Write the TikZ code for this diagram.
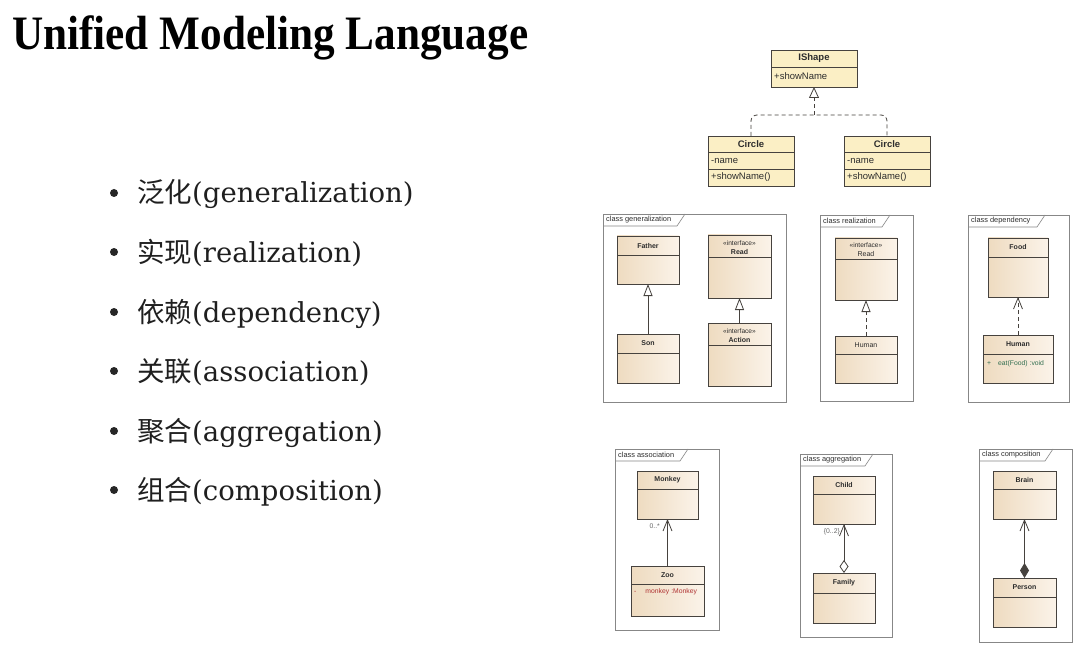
\documentclass[tikz,border=0pt]{standalone}
\usepackage{fontspec}
\usepackage{graphicx}
\setmainfont{DejaVu Serif}
\newfontfamily\cjk{Noto Sans CJK SC}
\newfontfamily\umlf{Liberation Sans}
\newfontfamily\titlef{Liberation Serif}
\usetikzlibrary{arrows.meta,shadows,calc}
\definecolor{tanL}{RGB}{238,219,192}
\definecolor{tanR}{RGB}{251,243,233}
\definecolor{clsborder}{RGB}{70,66,62}
\definecolor{ylw}{RGB}{251,239,197}
\definecolor{frmgray}{RGB}{135,135,135}
\definecolor{txtgray}{RGB}{45,45,45}
\definecolor{grn}{RGB}{50,110,80}
\definecolor{rd}{RGB}{175,50,50}
\tikzset{
  cls/.style={draw=clsborder, line width=0.8pt, left color=tanL, right color=tanR,
    inner sep=0pt, outer sep=0pt,
    drop shadow={shadow xshift=1.4pt, shadow yshift=-1.4pt, fill=black!40, opacity=0.7}},
  clsline/.style={draw=clsborder, line width=0.7pt},
  ycls/.style={draw=clsborder, line width=0.8pt, fill=ylw, inner sep=0pt, outer sep=0pt},
  frm/.style={draw=frmgray, line width=0.6pt, inner sep=0pt, outer sep=0pt},
  frmline/.style={draw=frmgray, line width=0.6pt},
  frmlabel/.style={font=\umlf\fontsize{7.4}{8}\selectfont, text=txtgray, inner sep=0pt},
  cname/.style={font=\umlf\bfseries\fontsize{7}{8}\selectfont, text=txtgray, inner sep=0pt},
  stereo/.style={font=\umlf\fontsize{6.6}{7}\selectfont, text=txtgray, inner sep=0pt},
  attr/.style={font=\umlf\fontsize{6.8}{7}\selectfont, inner sep=0pt, anchor=west},
  yname/.style={font=\umlf\bfseries\fontsize{9.5}{10}\selectfont, text=txtgray, inner sep=0pt},
  yattr/.style={font=\umlf\fontsize{9.5}{10}\selectfont, text=txtgray, inner sep=0pt, anchor=west},
  conn/.style={draw=clsborder, line width=0.8pt},
  dashconn/.style={draw=clsborder, line width=0.8pt, dash pattern=on 4pt off 3pt},
  gentip/.style={-{Triangle[open, length=12pt, width=9pt, fill=white]}},
  vtip/.style={-{Straight Barb[length=11pt, width=9pt]}},
  mult/.style={font=\umlf\fontsize{6.8}{7}\selectfont, text=black!60, inner sep=0pt, anchor=east},
  bulletdot/.style={circle, fill=black!85, minimum size=8pt, inner sep=0pt},
  btext/.style={anchor=base west, inner sep=0pt, text=black!88, font=\fontsize{27.5}{30}\selectfont}
}
\newcommand{\ucls}[6]{%
  \node[cls, anchor=north west, minimum width={#4-#2}, minimum height={#5-#3}] (#1) at (#2,#3) {};
  \draw[clsline] (#2,#6) -- (#4,#6);}
\newcommand{\uframe}[7]{%
  \node[frm, anchor=north west, minimum width={#4-#2}, minimum height={#5-#3}] (#1) at (#2,#3) {};
  \draw[frmline] (#2,#3+12) -- (#6-8,#3+12) -- (#6,#3);
  \node[frmlabel, anchor=west] (#1lbl) at (#2+3,#3+6) {#7};}
\begin{document}
\begin{tikzpicture}[x=1pt,y=-1pt]
\useasboundingbox (0,0) rectangle (1080,650);
\fill[white] (0,0) rectangle (1080,650);

% title
\node[anchor=base west, inner sep=0pt] (title) at (12,50)
  {\titlef\bfseries\fontsize{48}{50}\selectfont\scalebox{0.9}[1]{Unified Modeling Language}};

% bullets
\foreach \by/\cc/\ee [count=\i] in {203/泛化/generalization, 262/实现/realization,
   322/依赖/dependency, 381/关联/association, 441/聚合/aggregation, 500/组合/composition}{
  \node[bulletdot] (bd\i) at (114,\by-10) {};
  \node[btext] (bt\i) at (137,\by) {{\cjk\cc}(\ee)};
}

% ---- IShape diagram
\node[ycls, anchor=north west, minimum width=86, minimum height=37] (ishape) at (771,50) {};
\draw[clsline] (771,67) -- (857,67);
\node[yname] (ishapeN) at (814,58.5) {IShape};
\node[yattr] (ishapeA) at (774,76) {+showName};
\foreach \nm/\cx in {circA/708, circB/844}{
  \node[ycls, anchor=north west, minimum width=86, minimum height=50] (\nm) at (\cx,136) {};
  \draw[clsline] (\cx,152) -- (\cx+86,152);
  \draw[clsline] (\cx,169) -- (\cx+86,169);
  \node[yname] (\nm N) at (\cx+43,144) {Circle};
  \node[yattr] (\nm A) at (\cx+3,160.5) {-name};
  \node[yattr] (\nm B) at (\cx+3,177.5) {+showName()};
}
\coordinate (jn) at (814,115);
\draw[dashconn, rounded corners=6pt] (circA.north) |- (jn) -| (circB.north);
\draw[dashconn, -{Triangle[open, length=11pt, width=10pt, fill=white]}] (jn) -- (ishape.south);

% ---- frames
\uframe{fgen}{603}{214}{786}{402}{685}{class generalization}
\uframe{freal}{820}{215}{913}{401}{890}{class realization}
\uframe{fdep}{968}{215}{1069}{402}{1045}{class dependency}
\uframe{fasc}{615}{449}{719}{630}{688}{class association}
\uframe{fagg}{800}{454}{892}{637}{873}{class aggregation}
\uframe{fcmp}{979}{449}{1072}{642}{1053}{class composition}

% generalization
\ucls{father}{617}{236}{679}{284}{255}
\node[cname] (fatherN) at (648,245.5) {Father};
\ucls{son}{617}{334}{679}{383}{353}
\node[cname] (sonN) at (648,343.5) {Son};
\ucls{readA}{708}{235}{771}{298}{257}
\node[stereo] (readAS) at (739.5,243) {«interface»};
\node[cname] (readAN) at (739.5,252) {Read};
\ucls{action}{708}{323}{771}{386}{345}
\node[stereo] (actionS) at (739.5,331) {«interface»};
\node[cname] (actionN) at (739.5,340) {Action};
\draw[conn, gentip] (son.north) -- (father.south);
\draw[conn, gentip] (action.north) -- (readA.south);

% realization
\ucls{readB}{835}{238}{897}{300}{259}
\node[stereo] (readBS) at (866,245.5) {«interface»};
\node[cname, font=\umlf\fontsize{7}{8}\selectfont] (readBN) at (866,254) {Read};
\ucls{humanA}{835}{336}{897}{383}{354}
\node[cname, font=\umlf\fontsize{7}{8}\selectfont] (humanAN) at (866,345) {Human};
\draw[dashconn, gentip] (humanA.north) -- (readB.south);

% dependency
\ucls{food}{988}{238}{1048}{297}{257}
\node[cname] (foodN) at (1018,247) {Food};
\ucls{humanB}{983}{335}{1053}{383}{354}
\node[cname] (humanBN) at (1018,344.5) {Human};
\node[attr, text=grn] (humanBA) at (987,364) {+\hspace{7pt}eat(Food)\hspace{2pt}:void};
\draw[dashconn, vtip] (humanB.north) -- (food.south);

% association
\ucls{monkey}{637}{471}{698}{519}{489}
\node[cname] (monkeyN) at (667.5,480) {Monkey};
\ucls{zoo}{631}{566}{704}{616}{584}
\node[cname] (zooN) at (667.5,575) {Zoo};
\node[attr, text=rd] (zooA) at (634,592) {-\hspace{9pt}monkey\hspace{2pt}:Monkey};
\draw[conn, vtip] (zoo.north) -- (monkey.south);
\node[mult] (mAsc) at (660,526) {0..*};

% aggregation
\ucls{child}{813}{476}{875}{524}{494}
\node[cname] (childN) at (844,485) {Child};
\ucls{family}{813}{573}{875}{623}{593}
\node[cname] (familyN) at (844,583) {Family};
\draw[conn, {Diamond[open, length=13pt, width=9pt, fill=white]}-{Straight Barb[length=11pt, width=9pt]}] (family.north) -- (child.south);
\node[mult] (mAgg) at (840,532) {\{0..2\}};

% composition
\ucls{brain}{993}{471}{1056}{519}{489}
\node[cname] (brainN) at (1024.5,480) {Brain};
\ucls{person}{993}{578}{1056}{627}{597}
\node[cname] (personN) at (1024.5,587.5) {Person};
\draw[conn, {Diamond[length=15pt, width=9pt]}-{Straight Barb[length=11pt, width=9pt]}] (person.north) -- (brain.south);
\end{tikzpicture}
\end{document}
